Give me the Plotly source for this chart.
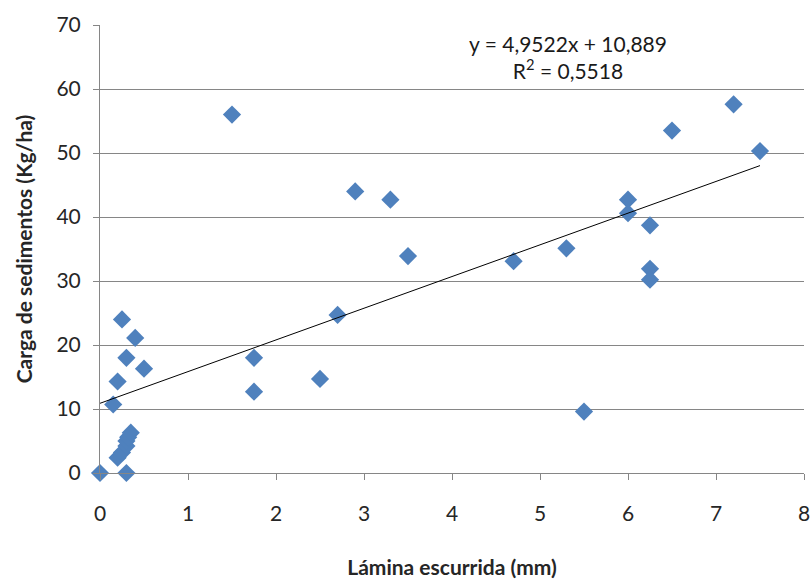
import plotly.graph_objects as go

# Runoff depth (mm) and sediment load (kg/ha)
lamina = [0.0, 0.3, 0.2, 0.25, 0.3, 0.3, 0.32, 0.35, 0.15, 0.2, 0.5, 0.3, 0.4, 0.25,
          1.5, 1.75, 1.75, 2.5, 2.7, 2.9, 3.3, 3.5,
          4.7, 5.3, 5.5, 6.0, 6.0, 6.25, 6.25, 6.25, 6.5, 7.2, 7.5]
carga = [0.0, 0.0, 2.4, 3.2, 4.2, 5.0, 5.6, 6.3, 10.7, 14.3, 16.3, 18.0, 21.1, 24.0,
         56.0, 18.0, 12.7, 14.7, 24.7, 44.0, 42.7, 33.9,
         33.1, 35.1, 9.6, 42.7, 40.6, 38.7, 31.9, 30.2, 53.5, 57.6, 50.3]

# Linear fit
slope = 4.9522
intercept = 10.889
r2 = 0.5518
fit_x = [min(lamina), max(lamina)]
fit_y = [slope * v + intercept for v in fit_x]

x_ticks = [0, 1, 2, 3, 4, 5, 6, 7, 8]
y_ticks = [0, 10, 20, 30, 40, 50, 60, 70]

font_family = "Lato, 'Open Sans', sans-serif"
grey = "#868686"

fig = go.Figure()
fig.add_trace(go.Scatter(
    x=lamina, y=carga, mode="markers",
    marker=dict(symbol="diamond", size=14, color="#4F81BD",
                line=dict(width=0)),
    showlegend=False, cliponaxis=False,
))
fig.add_trace(go.Scatter(
    x=fit_x, y=fit_y, mode="lines",
    line=dict(color="black", width=1),
    showlegend=False,
))

fig.add_annotation(
    x=0.665, y=0.99, xref="paper", yref="paper",
    text=f"y = {slope:.4f}x + {intercept:.3f}".replace(".", ",")
         + "<br>R<sup>2</sup> = " + f"{r2:.4f}".replace(".", ","),
    showarrow=False, align="center",
    font=dict(family=font_family, size=21, color="#1a1a1a"),
    xanchor="center", yanchor="top",
)

fig.update_layout(
    width=810, height=579,
    margin=dict(l=100, r=6, t=25, b=106),
    paper_bgcolor="white", plot_bgcolor="white",
    font=dict(family=font_family, size=21, color="#262626"),
    xaxis=dict(
        range=[0, 8], tickvals=x_ticks, ticktext=[str(v) for v in x_ticks],
        showgrid=False, zeroline=False, automargin=False,
        showline=True, linecolor=grey, linewidth=1,
        ticks="outside", ticklen=6, tickcolor=grey,
        ticklabelstandoff=16, ticklabeloverflow="allow",
        title=dict(text="<b>Lámina escurrida (mm)</b>", standoff=36,
                   font=dict(size=21)),
    ),
    yaxis=dict(
        range=[0, 70], tickvals=y_ticks, ticktext=[str(v) for v in y_ticks],
        showgrid=True, gridcolor=grey, gridwidth=1, zeroline=False,
        automargin=False,
        showline=True, linecolor=grey, linewidth=1,
        ticks="outside", ticklen=6, tickcolor=grey,
        ticklabelstandoff=8,
        title=dict(text="<b>Carga de sedimentos (Kg/ha)</b>", standoff=18,
                   font=dict(size=21)),
    ),
)

fig.write_html("out.html")
